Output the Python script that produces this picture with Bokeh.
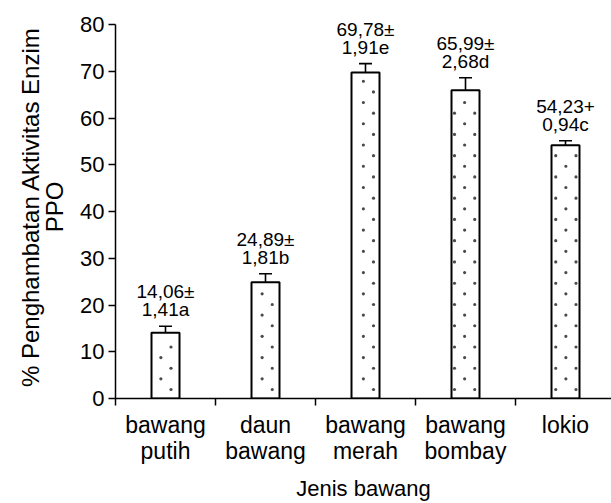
from bokeh.plotting import figure
from bokeh.models import Range1d, FixedTicker, ColumnDataSource, Whisker, LabelSet, TeeHead
from bokeh.core.properties import value
from bokeh.embed import file_html
from bokeh.resources import INLINE

categories = ["bawang\nputih", "daun\nbawang", "bawang\nmerah", "bawang\nbombay", "lokio"]
values = [14.06, 24.89, 69.78, 65.99, 54.23]
errors = [1.41, 1.81, 1.91, 2.68, 0.94]
label_line1 = ["14,06±", "24,89±", "69,78±", "65,99±", "54,23+"]
label_line2 = ["1,41a", "1,81b", "1,91e", "2,68d", "0,94c"]
y_ticks = [0, 10, 20, 30, 40, 50, 60, 70, 80]

FONT = "Liberation Sans"
BAR_W = 0.28

xs = [i + 0.5 for i in range(len(categories))]
src = ColumnDataSource(dict(
    x=xs, top=values,
    upper=[v + e for v, e in zip(values, errors)],
    lower=[v - e for v, e in zip(values, errors)],
    l1=label_line1, l2=label_line2,
))

p = figure(width=611, height=503, output_backend="svg", toolbar_location=None,
           x_range=Range1d(0, 4.96), y_range=Range1d(0, 82),
           min_border_left=115, min_border_top=15, min_border_bottom=100, min_border_right=0)
p.outline_line_color = None
p.grid.visible = False
p.background_fill_color = "white"

p.vbar(x="x", top="top", bottom=0, width=BAR_W, source=src,
       fill_color="white", line_color="black", line_width=2)

# staggered dot fill pattern (decoration inside each bar)
PX = 4.68             # approx pixels per y unit
col_step = 0.2025     # horizontal pattern period (x units)
row_step = 21.3 / PX  # vertical pattern period (y units)
dx, dy = [], []
for xc, top in zip(xs, values):
    for x0, y0 in ((0.555, 9 / PX), (0.555 - col_step / 2, 19.7 / PX)):
        k = 0
        while x0 + k * col_step < xc + BAR_W / 2:
            cx = x0 + k * col_step
            if abs(cx - xc) < BAR_W / 2 - 0.025:
                y = y0
                while y < top - 1.0:
                    dx.append(cx)
                    dy.append(y)
                    y += row_step
            k += 1
p.scatter(dx, dy, size=3.2, marker="circle", color="#4a4a4a", line_width=0)

w = Whisker(base="x", upper="upper", lower="lower", source=src,
            line_color="black", line_width=1.6,
            upper_head=TeeHead(size=13, line_width=1.6, line_color="black"),
            lower_head=TeeHead(size=13, line_width=1.6, line_color="black"))
p.add_layout(w)

for col, off in (("l2", 10), ("l1", 28)):
    p.add_layout(LabelSet(x="x", y="upper", text=col, source=src, y_offset=off,
                          text_align="center", text_baseline="alphabetic",
                          text_font=value(FONT), text_font_size="19px",
                          text_color="black"))

xa = p.xaxis[0]
xa.ticker = FixedTicker(ticks=xs, minor_ticks=[0, 1, 2, 3, 4])
xa.major_label_overrides = {x: c for x, c in zip(xs, categories)}
xa.major_tick_out = 0
xa.major_tick_in = 0
xa.minor_tick_out = 7
xa.minor_tick_in = 0
xa.minor_tick_line_color = "black"
xa.minor_tick_line_width = 1.5
xa.axis_line_width = 1.5
xa.axis_line_color = "black"
xa.major_label_text_font = FONT
xa.major_label_text_font_size = "23px"
xa.major_label_text_color = "black"
xa.major_label_text_line_height = 1.0
xa.major_label_standoff = 6
xa.axis_label = "Jenis bawang"
xa.axis_label_text_font = FONT
xa.axis_label_text_font_size = "22px"
xa.axis_label_text_font_style = "normal"
xa.axis_label_text_color = "black"
xa.axis_label_standoff = 9

ya = p.yaxis[0]
ya.ticker = FixedTicker(ticks=y_ticks)
ya.bounds = (0, 80)
ya.major_tick_out = 7
ya.major_tick_in = 0
ya.minor_tick_out = 0
ya.minor_tick_in = 0
ya.major_tick_line_width = 1.5
ya.axis_line_width = 1.5
ya.axis_line_color = "black"
ya.major_label_text_font = FONT
ya.major_label_text_font_size = "22px"
ya.major_label_text_color = "black"
ya.major_label_standoff = 4
ya.axis_label = "% Penghambatan Aktivitas Enzim\nPPO"
ya.axis_label_text_font = FONT
ya.axis_label_text_font_size = "24px"
ya.axis_label_text_font_style = "normal"
ya.axis_label_text_color = "black"
ya.axis_label_text_line_height = 0.9
ya.axis_label_standoff = 9

open("out.html", "w").write(file_html(p, INLINE))
